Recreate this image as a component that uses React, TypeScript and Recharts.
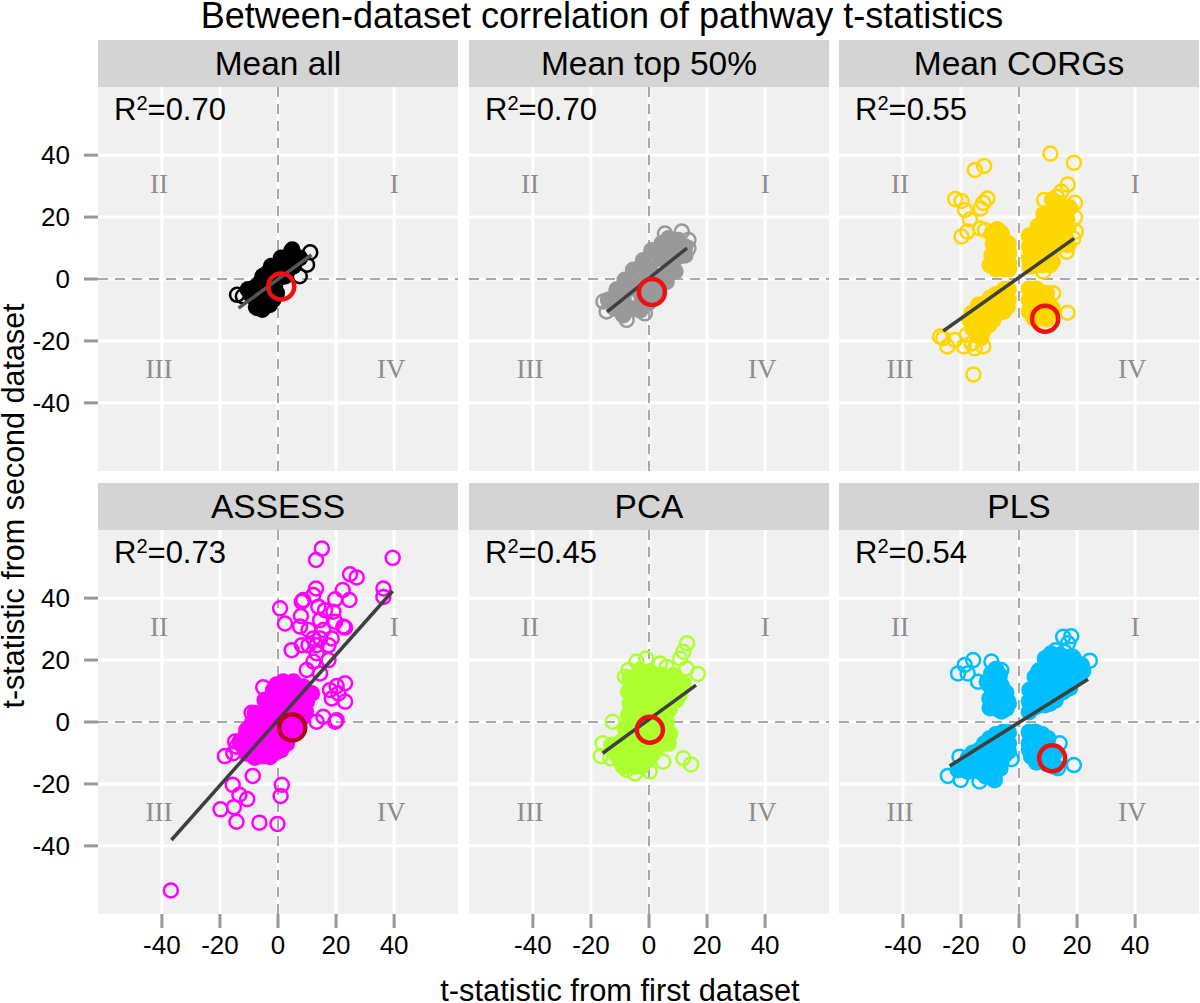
import { CartesianGrid, ReferenceDot, ReferenceLine, Scatter, ScatterChart, XAxis, YAxis } from 'recharts'

type Pt = [number, number]

const TICKS = [-40, -20, 0, 20, 40]
const DOMAIN: [number, number] = [-62, 62]

const PANEL_NAMES = ['Mean all', 'Mean top 50%', 'Mean CORGs', 'ASSESS', 'PCA', 'PLS']
const R2_VALUES = ['0.70', '0.70', '0.55', '0.73', '0.45', '0.54']
const COLORS = ['#000000', '#999999', '#ffd700', '#ff00ff', '#adff2f', '#00bfff']

// quadrant marks
const QUADRANTS: { label: string; x: number; y: number }[] = [
  { label: 'I', x: 40, y: 31 },
  { label: 'II', x: -41, y: 31 },
  { label: 'III', x: -41, y: -29 },
  { label: 'IV', x: 39, y: -29 },
]

// solid middle of each cloud, too dense to see single rings
const meanAllCore: Pt[] = [
  [-10.3, -3.4], [-7.5, -2.4], [-6.9, -6.7], [-5.2, -9.4], [-4, -4.5], [-3.4, -0.2], [-1.1, -2.4], [-2.3, 4.1], [-0.6, 3],
  [1.1, 6.8], [4.6, 8.9], [7.5, 6.8], [5.2, 4.1], [2.3, 0.9], [-5.2, 0.9], [-1.7, -6.7], [1.7, 5.2], [-2.9, -8.3],
  [-9, -5.5], [-4, -7], [-2.5, -1], [0.5, 0.5], [3.5, 3], [3, 6.5], [6, 6], [-0.5, -4.5], [-6, -1], [-7.5, -9], [-3.5, 2],
  [0.2, 4.5], [-1, 1],
]
const meanAllOpen: Pt[] = [
  [-14.1, -5.1], [-12.1, -5.6], [4.9, 9.5], [11.1, 8.6], [10, 4.6], [7.5, 0.9], [-5.4, -9.9], [-6.9, -9.4],
]

const meanTopCore: Pt[] = [
  [-14, -6.8], [-11.7, -9.5], [-8.9, -11.6], [-11.1, -3.5], [-8.9, -6.2], [-6, -9.5], [-3.1, -10.1], [-8.3, -0.3], [-5.4, -3],
  [-2.5, -5.6], [-0.2, -7.7], [-5.4, 2.9], [-2.5, 0.2], [0.3, -2.5], [3.2, -4.6], [-2, 6], [0.3, 3.4], [3.2, 0.8], [6, -0.9],
  [0.9, 9.2], [3.8, 6.6], [6.7, 4.5], [9, 2.4], [4.4, 11.5], [7.2, 9.2], [10.1, 7.2], [12.4, 7.7], [6.7, 13.1], [10.1, 12.5],
  [12.4, 10.4],
]
const meanTopOpen: Pt[] = [
  [-15.7, -7.3], [-14.6, -10.5], [-7.7, -13.2], [11.3, 15.3], [5.5, 14.7], [13.6, 12.6], [13.6, 9.9], [-1.4, -11.1],
]

const corgsCore: Pt[] = [
  [3.5, 6.7], [3.8, 4], [7.2, 5.1], [3.5, 10.4], [6.1, 8.3], [10.1, 7.2], [5.5, 12.6], [9, 11], [13, 10.4], [8.4, 15.8],
  [11.8, 14.7], [15.9, 13.7], [10.1, 19.6], [13.6, 18.5], [17, 16.9], [12.4, 22.8], [15.9, 21.7],
  [4, 7], [5.5, 4.5], [8, 4.5], [7.5, 7], [11.5, 5.5], [3.5, 14], [7, 13.5], [11, 12.5], [14.5, 12], [17, 11],
  [6.5, 17], [10, 17], [13.5, 15.5], [16.5, 19.3], [8.5, 21], [12, 21], [14, 24.5], [11.5, 25.5], [17.5, 23],
  [-9.4, 14.7], [-6, 14.7], [-3.7, 11.5], [-8.9, 11.5], [-5.4, 11], [-3.5, 8.3], [-9.4, 7.7], [-6, 7.2], [-3.5, 5.1],
  [-10, 4.5], [-6, 3.4], [-3.5, 3.2], [-8, 13], [-7.5, 9.5], [-4.5, 9.5], [-7.5, 5.5], [-4.5, 5], [-8, 3.2], [-5, 3.2],
  [-7.5, 16],
  [3.5, -3.2], [6.1, -3.2], [9.5, -4.6], [3.5, -6.8], [6.1, -6.8], [10.1, -7.8], [3.5, -10.5], [6.7, -10.5], [10.7, -11.1],
  [6.1, -13], [9.5, -13], [4.5, -4.5], [8, -6], [4.5, -8.5], [8.3, -9], [5, -12.5], [8, -12], [11.5, -9.5],
  [-3.7, -3.3], [-6.6, -4.6], [-3.7, -6.8], [-10, -6.2], [-6.6, -8.4], [-14, -8.4], [-10.6, -10], [-5.4, -10.5], [-16.3, -11.1],
  [-12.9, -12.7], [-8.9, -13.2], [-15.7, -14.3], [-12.3, -16.5], [-14.6, -17.5], [-5, -3.3], [-8, -5], [-5, -6],
  [-8.5, -8], [-12, -8], [-4, -9], [-8, -11.5], [-11.5, -14.5], [-14, -12], [-10.5, -15], [-17, -13], [-16, -16], [-13, -19],
]
const corgsOpen: Pt[] = [
  [10.8, 40.5], [18.9, 37.5], [-15.2, 35.2], [-12, 36.5], [16.8, 30.5], [14.6, 28.2], [13, 26.6], [8.6, 25.5], [19.3, 24.6],
  [-22, 25.8], [-19.8, 25.2], [-10.9, 26], [-12.3, 24.6], [-13.2, 22.8], [-18.6, 22.3], [-16.9, 19.2], [-19.8, 13.7],
  [-17.8, 15.3], [-13.4, 16.3], [-11.7, 15.8], [19.3, 19.9], [19.6, 15.3], [18.7, 13.1], [16.4, 8.8], [10.7, 4.5], [8.4, 2.4],
  [11.8, -4.6], [16.7, -10.9], [-26.1, -19.1], [-27.2, -18.6], [-24.7, -21.8], [-22.1, -19.7], [-19, -21.8], [-15.2, -22.4],
  [-12.3, -21.8], [-15.7, -30.8], [-18, -18], [-16.3, -20.8],
]

const assessCore: Pt[] = [
  [1.8, 13], [5.3, 13], [8.7, 11.4], [11.6, 9.2], [-1.6, 10.3], [1.8, 9.2], [5.9, 8.7], [9.9, 6.6], [-4.5, 7.1], [-0.5, 6],
  [3.6, 4.9], [7.6, 3.9], [-7.9, 2.8], [-3.9, 2.3], [0.1, 1.7], [4.1, 0.6], [8.2, 1.2], [-10.8, -2.6], [-6.8, -2.6],
  [-2.8, -2.6], [1.3, -3.7], [5.3, -3.7], [-13.1, -6.3], [-9.1, -6.9], [-5.1, -6.9], [-1, -6.9], [3, -6.9], [-10.8, -10.1],
  [-6.8, -10.1], [-2.8, -11.2], [-0.5, -9.6], [3.5, 11], [-0.5, 12], [7, 10], [10, 9], [-2, 8.5], [3.5, 7], [7.5, 6.5], [-3, 4.5],
  [1.5, 4], [5.5, 3], [9.5, 3.5], [-6, 0.5], [-2, 0], [2, -1], [6.5, -1], [-9, -0.5], [-8.5, -4.5], [-4.5, -5], [-0.5, -4.5],
  [3, -4.5], [-11.5, -5], [-7, -8.5], [-3, -9], [1, -9], [-12, -8], [-5, -11], [-8, -11.5],
]
const assessOpen: Pt[] = [
  [15.1, 56], [13.1, 52.3], [39.5, 53], [24.8, 47.7], [27.1, 46.7], [36.3, 43.1], [36.3, 40.4], [13.1, 43.1], [12.2, 41],
  [22.3, 42.6], [19.7, 39.6], [24.6, 39.4], [8.7, 39.4], [8.2, 38.8], [0.7, 36.7], [2.4, 31.8], [7.9, 34.2], [7.6, 30.8],
  [13.9, 37.2], [16.2, 36.1], [19.1, 35.6], [14.5, 32.9], [19.7, 32.4], [22.5, 30.8], [23.1, 30.5], [10.5, 29.7], [15.6, 29.7],
  [12.2, 27], [14.5, 27], [18.5, 27], [4.7, 23.2], [8.2, 24.8], [10.5, 24.8], [13.3, 24.8], [17.4, 24.8], [13.3, 22.2],
  [12.2, 19.5], [17.4, 20], [9.9, 16.8], [14.5, 15.7], [23.1, 12.5], [20.2, 11.6], [17.9, 10.3], [20.8, 9.2], [23.1, 6.6],
  [18.5, 7.6], [15.6, 1.7], [13.3, 0.1], [19.7, 0.1], [20.2, 0.6], [-5.1, 11.2], [-9.1, 3], [-14.8, -6.3], [-14.3, -8],
  [-18.3, -11], [-15.4, -10.1], [-8.7, -17.4], [1.3, -20.3], [0.9, -23.9], [-15.6, -20.3], [-13.3, -23.5], [-10.6, -24.9],
  [-15.2, -27.5], [-19.8, -28.2], [-14.3, -32.2], [-6.4, -32.5], [-0.2, -32.9], [-36.9, -54.4],
]

const pcaCore: Pt[] = [
  [-6.6, 14.1], [-3.1, 16.8], [0.3, 16.2], [4.4, 15.2], [8.4, 15.2], [11.8, 12.5], [-7.1, 9.8], [-3.1, 10.9], [0.9, 10.9],
  [4.9, 10.3], [9, 10.9], [-6.6, 6], [-2.5, 6], [1.5, 6.6], [5.5, 6], [9.5, 7.1], [-7.1, 2.3], [-3.1, 1.7], [0.9, 1.7],
  [4.9, 1.7], [-8.3, -2], [-4.3, -2.6], [-0.2, -2.6], [3.8, -2.6], [7.2, -3.7], [-12.9, -7.4], [-9.4, -6.3], [-4.8, -6.9],
  [-0.8, -7.4], [3.2, -8], [6.7, -6.9], [-11.7, -10.1], [-7.7, -11.2], [-3.7, -11.2], [-0.2, -12.3], [-8.9, -14.4],
  [-4.8, -14.4], [-2.5, -14.4], [-5, 12], [-1, 13.5], [2.5, 13], [6.5, 12.5], [10, 13.5], [-5, 8], [-1, 8.5], [3, 8.5], [7, 8.5],
  [10.5, 9], [-5, 4], [-1, 4], [3, 4], [7, 4], [-5.5, 0], [-1, -0.5], [3, -0.5], [6, 0], [-6.5, -4.5], [-2.5, -5], [1.5, -5],
  [5, -5], [-10, -8.5], [-6, -9], [-2, -9.5], [1.5, -10], [-10, -12.5], [-6, -13], [-2, -13],
]
const pcaOpen: Pt[] = [
  [13.1, 25.4], [11.8, 22.7], [10.7, 20.5], [16.8, 15.5], [-1, 20.5], [-4.3, 19.5], [3.8, 18.9], [-7.1, 16.8], [-8.3, 14.6],
  [-12.5, 0.1], [-16, -6.9], [-16.6, -11], [-13.4, -11.7], [11.8, -11.7], [14.5, -13.7], [4.9, -12.8], [0.3, -16], [-4.8, -16.6],
  [-7.7, -15.5], [6.1, 17.8], [12.9, 17.3],
]

const plsCore: Pt[] = [
  [3.5, 3.2], [3.5, 6.6], [6, 5], [3.7, 10.3], [7.1, 8.2], [10.6, 6], [7.7, 12.5], [11.1, 10.9], [15.2, 9.8], [9.4, 17.3],
  [12.9, 16.2], [16.9, 14.6], [20.3, 14.6], [12.3, 20], [16.3, 19.5], [21.5, 18.4],
  [5, 8], [9, 5.5], [12.5, 7], [5.5, 11], [9.5, 9], [13, 9], [17.5, 11], [5.5, 14.5], [9, 14], [13, 13], [6.8, 16.5], [18, 17],
  [14.5, 17.5], [10.5, 19.5], [19, 20], [22, 16.5], [9, 20.5], [14, 21.5], [18.5, 21], [11, 22],
  [-9.5, 15.7], [-6.7, 15.2], [-10.1, 11.9], [-6.1, 11.9], [-10.1, 7.6], [-6.1, 8.2], [-7.8, 4.4], [-4.4, 4.4],
  [-8, 13.5], [-8, 10], [-4.5, 9.5], [-8.5, 6], [-4, 7], [-10, 4.5], [-6, 3.5], [-3.6, 6], [-8, 17], [-11, 13],
  [3.5, -3.3], [6.6, -3.7], [10, -5.3], [3.5, -6.9], [6.6, -8], [10.6, -9], [4.3, -11.2], [7.7, -12.3], [11.1, -12.3], [12.3, -14.4],
  [5.5, -3.2], [8, -4], [5, -5.5], [8.5, -6.5], [3.5, -9], [5.5, -10], [9, -10], [6, -13], [9.5, -13.5], [12, -10.5],
  [-3.6, -3.4], [-6.7, -4.2], [-3.6, -6.9], [-10.1, -5.3], [-6.7, -8], [-13.6, -9], [-10.1, -9.6], [-4.9, -10.6], [-17.6, -11.7],
  [-14.1, -12.3], [-9.5, -14.4], [-6.1, -12.8], [-21, -15.5], [-17.6, -16], [-13.6, -16], [-10.1, -17.1], [-8.4, -18.7],
  [-5.5, -3.3], [-8, -4], [-12, -7], [-5, -6], [-8.5, -7], [-3.6, -9.5], [-5, -9], [-8, -10.5], [-12, -10.5],
  [-16, -10], [-12, -14], [-15.5, -14], [-19, -14], [-8, -16], [-6.5, -15], [-11.5, -17.5],
]
const plsOpen: Pt[] = [
  [15.2, 27.5], [18, 27.7], [16.9, 25.4], [12.6, 23.2], [15.7, 22.7], [24.4, 19.8], [-21, 15.7], [-18.7, 18.4], [-15.8, 20],
  [-9.5, 19.5], [-17.7, 15.7], [-14.1, 13], [-6.1, 16.8], [18.9, -13.9], [14, -6.9], [13.4, -14.9], [-24.5, -17.4], [-20.1, -18.7],
  [-13.6, -19.2], [-20.5, -11.2], [-2.6, -12],
]

const CORES = [meanAllCore, meanTopCore, corgsCore, assessCore, pcaCore, plsCore]
const OPENS = [meanAllOpen, meanTopOpen, corgsOpen, assessOpen, pcaOpen, plsOpen]

// the highlighted pathway in each panel
const HIGHLIGHTS: Pt[] = [[1.1, -2.4], [1, -4.2], [9, -12.8], [4.9, -1.8], [0.3, -2.5], [11.4, -11.7]]
const HIGHLIGHT_COLORS = ['#ee1111', '#ee1111', '#ee1111', '#b3001e', '#ee1111', '#ee1111']

const FIT_LINES: Pt[][] = [
  [[-13.6, -9.4], [11.5, 7.8]],
  [[-14.5, -10.6], [13.1, 10]],
  [[-26.1, -16.8], [19, 13.1]],
  [[-36.7, -38.1], [39.5, 42.3]],
  [[-16, -10.1], [16.2, 11.9]],
  [[-23.9, -14.2], [23.8, 13.8]],
]

const toXY = (pts: Pt[]) => pts.map(([x, y]) => ({ x, y }))

const ring = (color: string, r: number, strokeWidth: number, fill = 'none') => (props: any) => (
  <circle cx={props.cx} cy={props.cy} r={r} fill={fill} stroke={color} strokeWidth={strokeWidth} />
)
const noMark = () => <g />

const FONT = '"Liberation Sans", Arial, sans-serif'
const PANEL_LEFT = [98, 469, 839]
const PANEL_TOP = [87, 530]
const PANEL_W = 360
const PANEL_H = 384
const Y_AXIS_W = 98
const X_AXIS_H = 60

function Panel({ index }: { index: number }) {
  const col = index % 3
  const row = Math.floor(index / 3)
  const showY = col === 0
  const showX = row === 1
  const yw = showY ? Y_AXIS_W : 0
  const xh = showX ? X_AXIS_H : 0
  const left = PANEL_LEFT[col]
  const color = COLORS[index]
  const tickStyle = { fontSize: 26, fill: '#000', fontFamily: FONT }

  return (
    <>
      <div
        style={{
          position: 'absolute', left, top: PANEL_TOP[row] - 47, width: PANEL_W, height: 47,
          background: '#d4d4d4', textAlign: 'center', fontFamily: FONT, fontSize: 33.5, lineHeight: '48px', color: '#000',
        }}
      >
        {PANEL_NAMES[index]}
      </div>
      <div style={{ position: 'absolute', left: left - yw, top: PANEL_TOP[row] }}>
        <ScatterChart width={PANEL_W + yw} height={PANEL_H + xh} margin={{ top: 0, right: 0, bottom: 0, left: 0 }}>
          <CartesianGrid fill="#f0f0f0" stroke="#ffffff" strokeWidth={3} horizontalValues={TICKS} verticalValues={TICKS} />
          <XAxis
            type="number" dataKey="x" domain={DOMAIN} ticks={TICKS} hide={!showX} height={X_AXIS_H}
            axisLine={false} tickSize={14} tickMargin={8} interval={0}
            tickLine={{ stroke: '#999999', strokeWidth: 3 }} tick={tickStyle}
          />
          <YAxis
            type="number" dataKey="y" domain={DOMAIN} ticks={TICKS} hide={!showY} width={Y_AXIS_W}
            axisLine={false} tickSize={14} tickMargin={14} interval={0}
            tickLine={{ stroke: '#999999', strokeWidth: 3 }} tick={tickStyle}
          />
          {QUADRANTS.map((q) => (
            <ReferenceDot
              key={q.label} x={q.x} y={q.y} r={0} fill="none" stroke="none"
              label={{ value: q.label, position: 'center', fontSize: 27, fill: '#8c8c8c', fontFamily: '"Liberation Serif", serif' }}
            />
          ))}
          <Scatter data={toXY(CORES[index])} isAnimationActive={false} shape={ring(color, 8.5, 0, color)} />
          <Scatter data={toXY(OPENS[index])} isAnimationActive={false} shape={ring(color, 7, 2.5)} />
          <ReferenceLine x={0} stroke="#a8a8a8" strokeWidth={2} strokeDasharray="10 7" />
          <ReferenceLine y={0} stroke="#a8a8a8" strokeWidth={2} strokeDasharray="10 7" />
          <Scatter
            data={toXY(FIT_LINES[index])} isAnimationActive={false} shape={noMark}
            line={{ stroke: index === 0 ? '#555555' : '#3f3f3f', strokeWidth: 3.5 }}
          />
          <Scatter
            data={toXY([HIGHLIGHTS[index]])} isAnimationActive={false}
            shape={ring(HIGHLIGHT_COLORS[index], 13, 4.5)}
          />
        </ScatterChart>
      </div>
      <div
        style={{
          position: 'absolute', left: left + 16, top: PANEL_TOP[row] + 2.5, fontFamily: FONT, fontSize: 31,
          lineHeight: '40px', color: '#000', whiteSpace: 'nowrap',
        }}
      >
        R<sup style={{ fontSize: 20, lineHeight: 0, verticalAlign: 10 }}>2</sup>={R2_VALUES[index]}
      </div>
    </>
  )
}

export default function App() {
  return (
    <div style={{ position: 'absolute', left: 0, top: 0, width: 1200, height: 1003, background: '#fff', overflow: 'hidden' }}>
      <div
        style={{
          position: 'absolute', left: 0, width: 1200, top: 0, textAlign: 'center', fontFamily: FONT, fontSize: 36,
          lineHeight: '32px', color: '#000', paddingLeft: 2, whiteSpace: 'nowrap',
        }}
      >
        Between-dataset correlation of pathway t-statistics
      </div>
      {PANEL_NAMES.map((_, i) => (
        <Panel key={PANEL_NAMES[i]} index={i} />
      ))}
      <div
        style={{
          position: 'absolute', left: 420, top: 979, width: 400, textAlign: 'center', fontFamily: FONT, fontSize: 30.8,
          lineHeight: '24px', color: '#000', whiteSpace: 'nowrap',
        }}
      >
        t-statistic from first dataset
      </div>
      <div
        style={{
          position: 'absolute', left: 13, top: 506, transform: 'translate(-50%, -50%) rotate(-90deg)', fontFamily: FONT,
          fontSize: 30.5, lineHeight: '26px', color: '#000', whiteSpace: 'nowrap',
        }}
      >
        t-statistic from second dataset
      </div>
    </div>
  )
}
